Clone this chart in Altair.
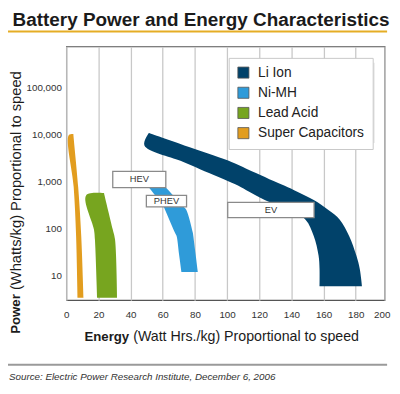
import altair as alt
import pandas as pd

# ---- series ----
series_names = ["Li Ion", "Ni-MH", "Lead Acid", "Super Capacitors"]
series_colors = ["#01426a", "#2f9bd9", "#77a51f", "#e29d1f"]

li_power = [10640, 5820, 2738, 1795, 866, 649, 402, 249, 154, 69, 26.5, 14, 5.9]
li_energy_low = [51.3, 48.6, 71.0, 83.5, 105.1, 112.0, 123.4, 138.0, 148.8, 153.9, 156.9, 157.5, 157.5]
li_energy_high = [51.3, 73.4, 101.0, 113.0, 133.6, 141.7, 153.9, 162.8, 170.1, 175.9, 180.4, 182.5, 183.9]

nimh_power = [1155, 705, 292, 249, 81, 69, 28.7, 11.9]
nimh_energy_low = [47.2, 51.9, 60.5, 61.4, 67.6, 68.6, 70.1, 71.6]
nimh_energy_high = [56.7, 62.5, 72.8, 74.6, 78.7, 79.0, 80.4, 81.8]

lead_power = [562, 504, 95.5, 59, 3.37]
lead_energy_low = [23.5, 12.3, 17.2, 17.8, 19.2]
lead_energy_high = [23.5, 23.8, 28.9, 30.3, 31.6]

cap_power = [10150, 9530, 760, 69, 3.37]
cap_energy_low = [4.4, 1.5, 4.6, 6.1, 7.0]
cap_energy_high = [4.4, 4.45, 7.4, 9.3, 10.7]

# ---- annotation boxes ----
ann_names = ["HEV", "PHEV", "EV"]
ann_e0 = [28.9, 49.8, 100.4]
ann_e1 = [61.9, 74.8, 154.1]
ann_p0 = [739, 287, 169]
ann_p1 = [1641, 504, 360]

x_ticks = [0, 20, 40, 60, 80, 100, 120, 140, 160, 180, 198]
y_ticks = [10, 100, 1000, 10000, 100000]

FONT = "Liberation Sans"

# polygon outline: down the low-energy edge, back up the high-energy edge.
# Edge end points are repeated so the smooth curve keeps sharp corners there.
rows = []
for name, ps, lo, hi in [
    ("Li Ion", li_power, li_energy_low, li_energy_high),
    ("Ni-MH", nimh_power, nimh_energy_low, nimh_energy_high),
    ("Lead Acid", lead_power, lead_energy_low, lead_energy_high),
    ("Super Capacitors", cap_power, cap_energy_low, cap_energy_high),
]:
    outline = []
    left = list(zip(ps, lo))
    right = list(zip(reversed(ps), reversed(hi)))
    for edge in (left, right):
        outline.append(edge[0])
        outline.extend(edge)
        outline.append(edge[-1])
    for k, (p, e) in enumerate(outline):
        rows.append({"series": name, "power": p, "energy": e, "k": k})
bands = pd.DataFrame(rows)

ann = pd.DataFrame({"name": ann_names, "e0": ann_e0, "e1": ann_e1, "p0": ann_p0, "p1": ann_p1})
one = pd.DataFrame({"k": [0]})

x_scale = alt.Scale(domain=[0, 198], nice=False, zero=False)
y_scale = alt.Scale(type="log", domain=[3, 736000], nice=False)

x_axis = alt.Axis(
    values=x_ticks, title=None, grid=True, gridColor="#c8c8c8", gridWidth=1.3,
    ticks=False, domain=False, labelPadding=10, labelFontSize=10, labelFont=FONT,
    labelColor="#333", labelFlush=False, labelOverlap=False,
    labelExpr="datum.value >= 198 ? '200' : datum.label",
    labelOffset={"condition": {"test": "datum.value >= 198", "value": -3}, "value": 0},
)
y_axis = alt.Axis(
    values=y_ticks, format=",", title=None, grid=False, ticks=False, domain=False,
    labelPadding=5, labelFontSize=10, labelFont=FONT, labelColor="#333",
    labelFlush=False, labelOverlap=False,
)

shapes = alt.Chart(bands).mark_line(
    filled=True, strokeWidth=0, interpolate="catmull-rom"
).encode(
    y=alt.Y("power:Q", scale=y_scale, axis=y_axis),
    x=alt.X("energy:Q", scale=x_scale, axis=x_axis),
    order=alt.Order("k:Q"),
    color=alt.Color(
        "series:N",
        scale=alt.Scale(domain=series_names, range=series_colors),
        legend=alt.Legend(
            title=None, orient="none", legendX=165.8, legendY=11.7,
            symbolType="square", symbolSize=128, symbolStrokeColor="#555",
            symbolStrokeWidth=0.8, symbolOpacity=1,
            labelFontSize=14, labelFont=FONT,
            labelColor="#222", fillColor="white", strokeColor="#c8c8c8",
            padding=8, rowPadding=4.6, labelOffset=8,
        ),
    ),
)

boxes = alt.Chart(ann).mark_rect(fill="white", stroke="#8a8a8a", strokeWidth=1.3).encode(
    x=alt.X("e0:Q", scale=x_scale, axis=x_axis), x2="e1:Q",
    y=alt.Y("p0:Q", scale=y_scale, axis=y_axis), y2="p1:Q",
)
box_text = alt.Chart(ann).transform_calculate(
    xc="(datum.e0 + datum.e1) / 2", yc="sqrt(datum.p0 * datum.p1)"
).mark_text(font=FONT, fontSize=9.5, color="#333").encode(
    x=alt.X("xc:Q", scale=x_scale, axis=x_axis),
    y=alt.Y("yc:Q", scale=y_scale, axis=y_axis),
    text="name:N",
)

shadow1 = alt.Chart(one).mark_rect(color="#000", opacity=0.08).encode(
    x=alt.value(170.8), x2=alt.value(315), y=alt.value(16.7), y2=alt.value(98.5))
shadow2 = alt.Chart(one).mark_rect(color="#000", opacity=0.12).encode(
    x=alt.value(168.8), x2=alt.value(312.5), y=alt.value(14.7), y2=alt.value(96))

title = alt.Chart(one).mark_text(
    text="Battery Power and Energy Characteristics", align="left", baseline="alphabetic",
    font=FONT, fontSize=19.3, fontWeight="bold", color="#1b1b1b",
).encode(x=alt.value(-54.8), y=alt.value(-20.8))

gold = alt.Chart(one).mark_rule(color="#e5ad25", strokeWidth=2).encode(
    x=alt.value(-59.5), x2=alt.value(327.5), y=alt.value(-15.3))
grey = alt.Chart(one).mark_rule(color="#9a9a9a", strokeWidth=2).encode(
    x=alt.value(-59.5), x2=alt.value(327.5), y=alt.value(325))

xt_bold = alt.Chart(one).mark_text(
    text="Energy", align="left", baseline="alphabetic", font=FONT, fontSize=13.5,
    fontWeight="bold", color="#1b1b1b").encode(x=alt.value(18.5), y=alt.value(300.7))
xt_reg = alt.Chart(one).mark_text(
    text="(Watt Hrs./kg) Proportional to speed", align="left", baseline="alphabetic",
    font=FONT, fontSize=14.5, color="#1b1b1b").encode(x=alt.value(68.3), y=alt.value(300.7))

yt_bold = alt.Chart(one).mark_text(
    text="Power", align="left", baseline="middle", angle=270, font=FONT, fontSize=13.5,
    fontWeight="bold", color="#1b1b1b").encode(x=alt.value(-51.5), y=alt.value(293.4))
yt_reg = alt.Chart(one).mark_text(
    text="(Whatts/kg) Proportional to speed", align="left", baseline="middle", angle=270,
    font=FONT, fontSize=15, color="#1b1b1b").encode(x=alt.value(-51.5), y=alt.value(248.7))

source = alt.Chart(one).mark_text(
    text="Source:  Electric Power Research Institute, December 6, 2006", align="left",
    baseline="alphabetic", font=FONT, fontSize=10, fontStyle="italic", color="#333",
).encode(x=alt.value(-58.5), y=alt.value(340.5))

chart = alt.layer(
    shapes, boxes, box_text, shadow1, shadow2, title, gold, grey,
    xt_bold, xt_reg, yt_bold, yt_reg, source,
).properties(
    width=325, height=259,
    padding={"left": 59.5, "top": 35.3, "right": 7.5, "bottom": 83.7},
    autosize=alt.AutoSizeParams(type="none"),
    background="white",
).configure_view(stroke="#555", strokeWidth=1.2)

chart.save("out.html", embed_options={"renderer": "svg", "actions": False})
